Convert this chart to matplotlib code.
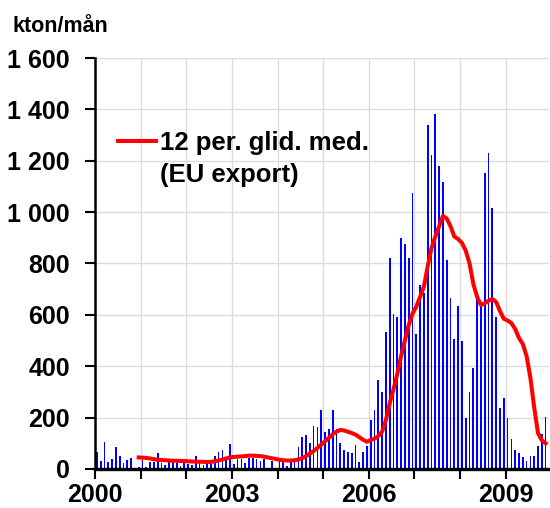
import numpy as np
import matplotlib
matplotlib.use('Agg')
import matplotlib.pyplot as plt
from matplotlib.lines import Line2D

# monthly values, kton/month, Jan 2000 - Nov 2009
y2000 = [65, 33, 107, 26, 37, 86, 52, 25, 36, 41, 3, 7]
y2001 = [36, 7, 29, 29, 63, 25, 14, 40, 30, 30, 10, 25]
y2002 = [20, 14, 52, 33, 14, 29, 33, 52, 65, 75, 40, 98]
y2003 = [20, 40, 40, 23, 44, 44, 40, 33, 40, 5, 33, 5]
y2004 = [37, 33, 10, 33, 33, 85, 124, 134, 100, 169, 165, 231]
y2005 = [143, 156, 231, 156, 100, 72, 68, 62, 94, 27, 68, 90]
y2006 = [191, 228, 348, 298, 535, 822, 604, 592, 901, 876, 822, 1076]
y2007 = [527, 718, 686, 1340, 1224, 1383, 1180, 1119, 814, 665, 507, 636]
y2008 = [498, 199, 298, 392, 688, 643, 1154, 1230, 1018, 590, 238, 275]
y2009 = [197, 117, 72, 63, 46, 33, 50, 50, 88, 137, 202]

# 12 month moving average (EU export)
ma2000 = [np.nan] * 11 + [45]
ma2001 = [44, 43, 41, 38, 36, 35, 34, 33, 32, 32, 31, 31]
ma2002 = [30, 29, 29, 28, 28, 27, 28, 30, 33, 37, 41, 45]
ma2003 = [47, 48, 49, 50, 52, 52, 51, 50, 48, 45, 42, 39]
ma2004 = [36, 34, 33, 33, 34, 37, 42, 50, 60, 70, 82, 95]
ma2005 = [108, 121, 135, 145, 152, 150, 145, 140, 134, 124, 114, 106]
ma2006 = [113, 118, 128, 145, 190, 255, 310, 370, 440, 500, 560, 605]
ma2007 = [632, 670, 710, 790, 860, 905, 945, 985, 975, 945, 905, 895]
ma2008 = [880, 850, 800, 720, 670, 638, 645, 655, 662, 650, 615, 585]
ma2009 = [578, 568, 545, 510, 487, 440, 355, 240, 140, 112, 100]

years = ['2000', '2003', '2006', '2009']
yticks = [0, 200, 400, 600, 800, 1000, 1200, 1400, 1600]
ylabels = ['0', '200', '400', '600', '800', '1 000', '1 200', '1 400', '1 600']

bars = y2000 + y2001 + y2002 + y2003 + y2004 + y2005 + y2006 + y2007 + y2008 + y2009
ma = ma2000 + ma2001 + ma2002 + ma2003 + ma2004 + ma2005 + ma2006 + ma2007 + ma2008 + ma2009
x = np.arange(len(bars)) + 0.5

plt.rcParams['font.family'] = ['Liberation Sans', 'DejaVu Sans']
plt.rcParams['font.weight'] = 'bold'

fig = plt.figure(figsize=(5.5, 5.08), dpi=100)
ax = fig.add_axes([0.1727, 0.0768, 0.8255, 0.809])

ax.bar(x, bars, width=0.45, color='#0000ff', zorder=2)
line, = ax.plot(x, ma, color='#ff0000', lw=2.9, zorder=3)

ax.set_xlim(0, 119.4)
ax.set_ylim(0, 1600)
ax.set_xticks([0, 36, 72, 108])
ax.set_xticklabels(years, fontsize=18, fontweight='bold')
ax.set_xticks(np.arange(0, 120, 12), minor=True)
ax.set_yticks(yticks)
ax.set_yticklabels(ylabels, fontsize=18, fontweight='bold')

ax.grid(True, which='minor', axis='x', color='#dcdcdc', lw=1, zorder=0)
ax.grid(True, which='major', axis='both', color='#dcdcdc', lw=1, zorder=0)
ax.tick_params(axis='both', which='both', direction='out', length=7, width=1.5, color='black')
ax.tick_params(axis='x', pad=3)
ax.tick_params(axis='y', pad=11)

for s in ['top', 'right']:
    ax.spines[s].set_visible(False)
ax.spines['left'].set_linewidth(1.8)
ax.spines['bottom'].set_linewidth(2.4)

fig.text(0.022, 0.948, 'kton/mån', fontsize=15.5, fontweight='bold', va='center')

blank = Line2D([], [], color='none')
ax.legend([line, blank], ['12 per. glid. med.', '(EU export)'], loc='upper left',
          bbox_to_anchor=(0.05, 0.823), frameon=False, borderpad=0, borderaxespad=0,
          handlelength=1.5, handletextpad=0.15, labelspacing=0.32,
          prop={'size': 18.5, 'weight': 'bold'})

fig.savefig('out.png', dpi=100)
